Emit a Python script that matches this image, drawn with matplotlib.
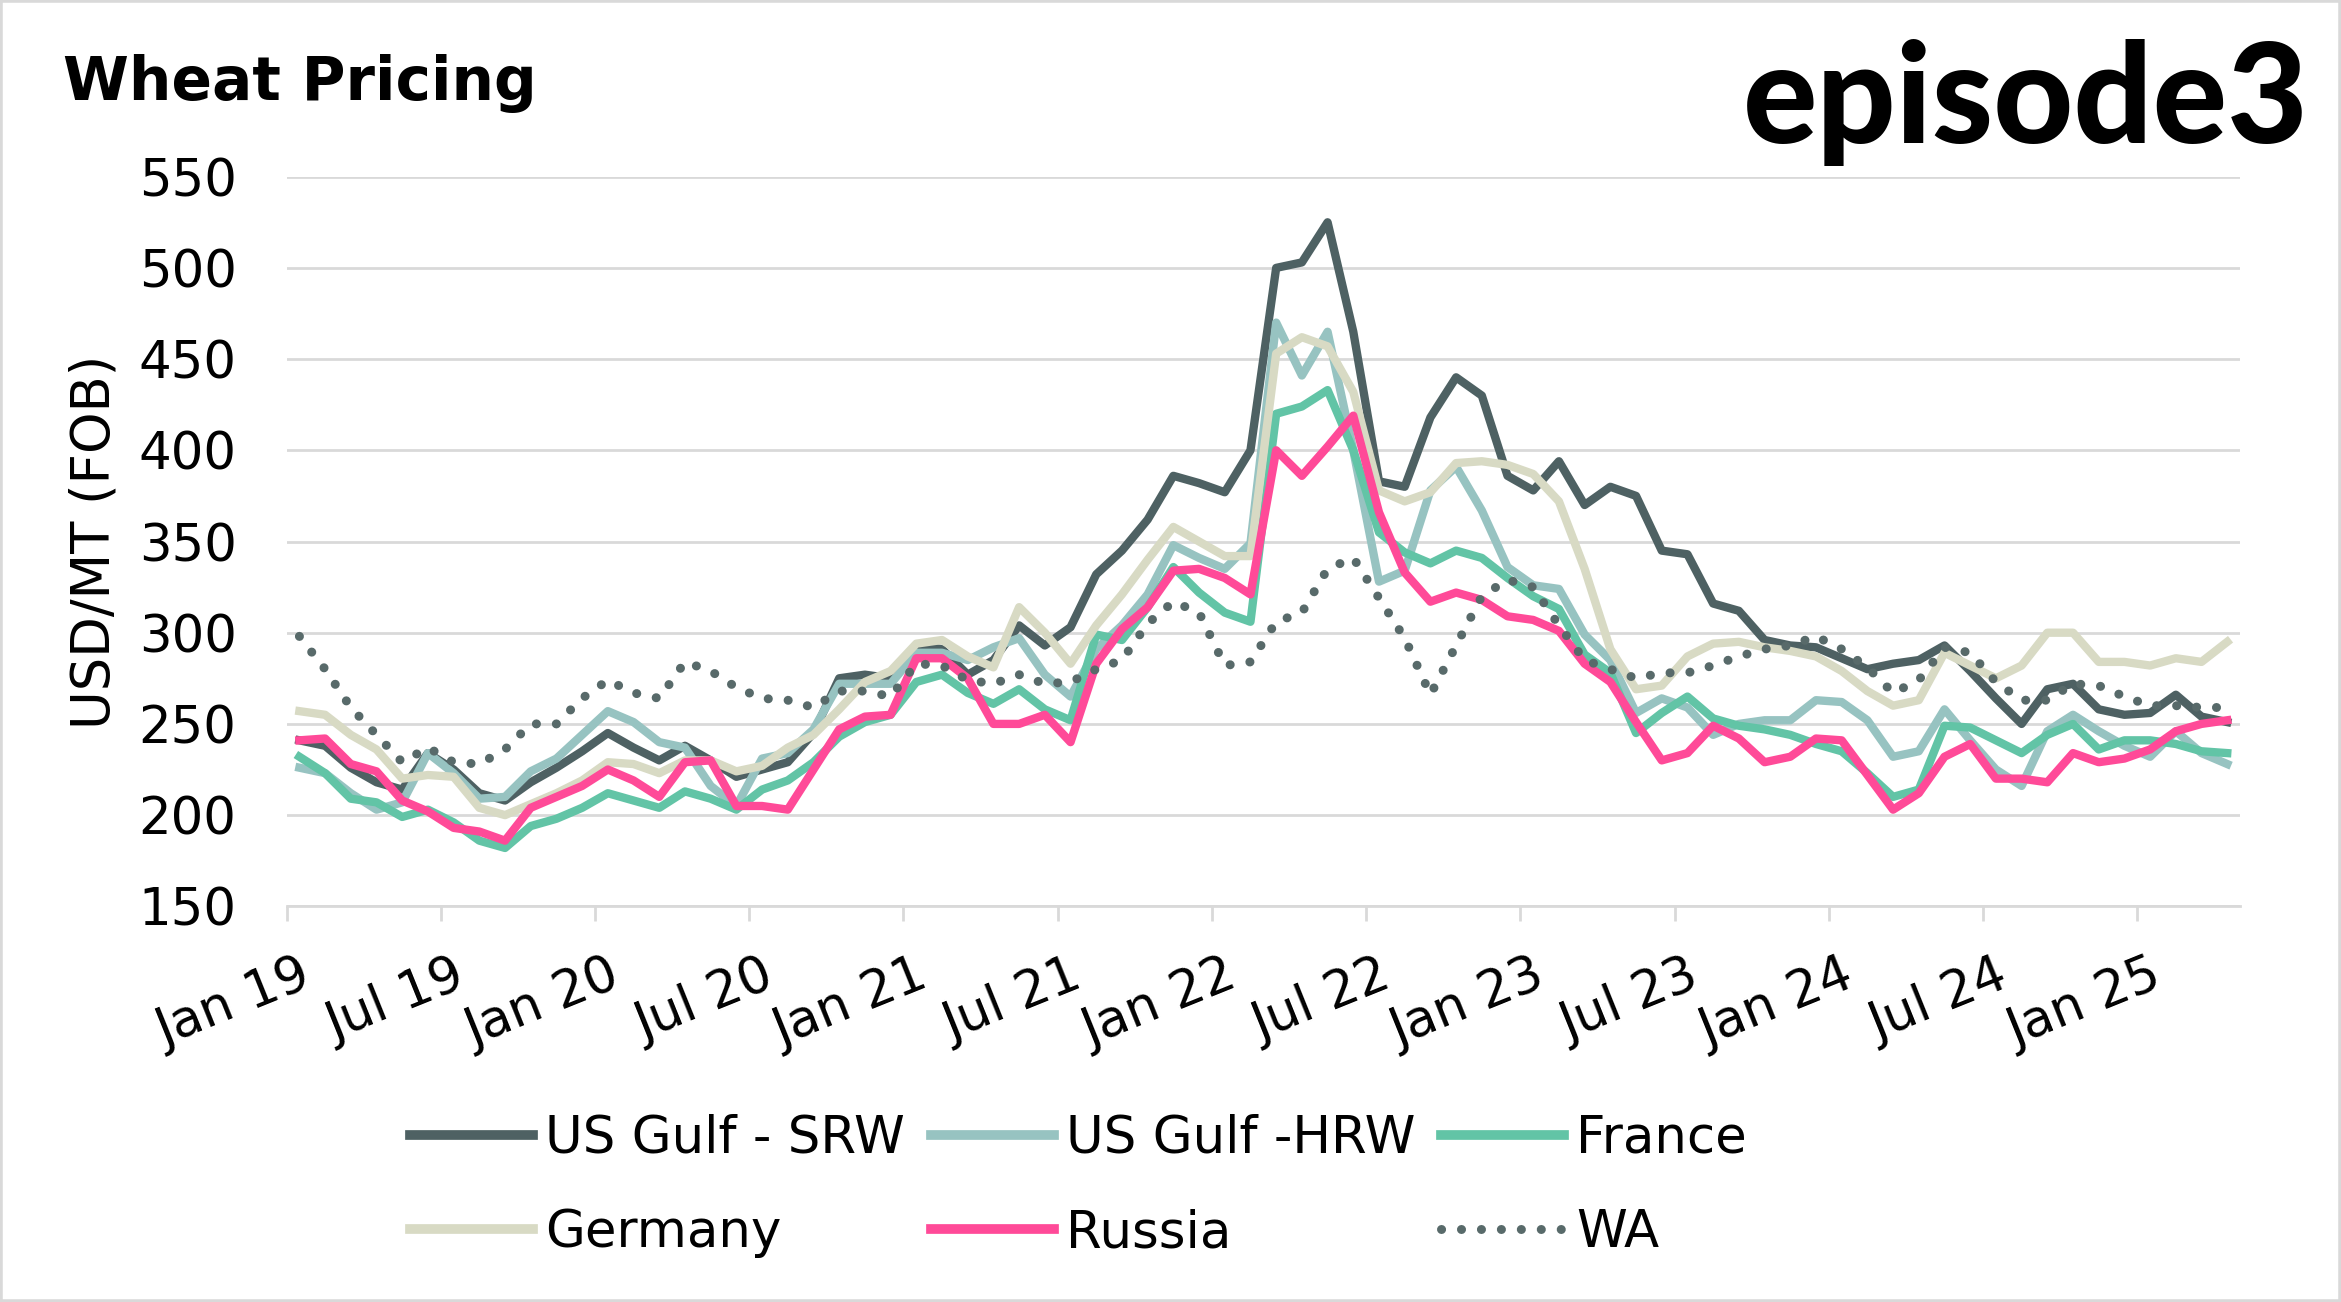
import matplotlib.pyplot as plt
from matplotlib.patches import Rectangle

# monthly FOB prices, Jan 2019 .. Apr 2025 (USD/MT)
tick_labels = ['Jan 19', 'Jul 19', 'Jan 20', 'Jul 20', 'Jan 21', 'Jul 21', 'Jan 22',
               'Jul 22', 'Jan 23', 'Jul 23', 'Jan 24', 'Jul 24', 'Jan 25']

us_gulf_srw = [241, 238, 226, 218, 214, 234, 225, 212, 208, 218, 226, 235, 245,
               237, 230, 238, 230, 221, 225, 229, 245, 275, 277, 275, 293, 291,
               277, 285, 304, 293, 303, 332, 345, 362, 386, 382, 377, 400, 500,
               503, 525, 465, 383, 380, 418, 440, 430, 386, 378, 394, 370,
               380, 375, 345, 343, 316, 312, 296, 293, 292, 286, 280, 283, 285,
               293, 279, 264, 250, 269, 272, 258, 255, 256, 266, 254, 251]

us_gulf_hrw = [226, 223, 212, 203, 207, 234, 223, 209, 210, 224, 231, 244, 257,
               251, 240, 237, 216, 205, 231, 234, 247, 272, 272, 272, 289, 289,
               285, 292, 297, 277, 265, 291, 304, 321, 348, 341, 335, 349, 470,
               441, 465, 400, 328, 334, 378, 391, 367, 336, 326, 324, 299,
               285, 256, 264, 259, 244, 250, 252, 252, 263, 262, 252, 232, 235,
               258, 241, 225, 216, 246, 255, 246, 238, 232, 246, 234, 228]

france = [232, 223, 209, 207, 199, 203, 196, 186, 182, 194, 198, 204, 212,
          208, 204, 213, 209, 203, 214, 219, 229, 243, 251, 255, 273, 277,
          267, 261, 269, 258, 252, 299, 296, 314, 336, 322, 311, 306, 420,
          424, 433, 400, 355, 344, 338, 345, 341, 330, 320, 313, 288,
          278, 245, 256, 265, 253, 249, 247, 244, 239, 235, 223, 210, 214,
          249, 248, 241, 234, 244, 250, 236, 241, 241, 239, 235, 234]

germany = [257, 255, 244, 236, 220, 222, 221, 204, 200, 206, 212, 219, 229,
           228, 223, 230, 230, 224, 227, 237, 244, 258, 273, 279, 294, 296,
           287, 281, 314, 300, 283, 304, 321, 340, 358, 350, 342, 342, 453,
           462, 457, 432, 378, 372, 377, 393, 394, 392, 387, 372, 335,
           291, 269, 271, 287, 294, 295, 292, 290, 287, 279, 268, 260, 263,
           289, 282, 275, 282, 300, 300, 284, 284, 282, 286, 284, 295]

russia = [241, 242, 228, 224, 208, 202, 193, 191, 186, 204, 210, 216, 225,
          219, 210, 229, 230, 205, 205, 203, 225, 247, 254, 255, 286, 286,
          275, 250, 250, 255, 240, 283, 302, 314, 334, 335, 330, 321, 400,
          386, 402, 419, 366, 333, 317, 322, 318, 309, 307, 301, 283,
          273, 251, 230, 234, 249, 242, 229, 232, 242, 241, 222, 203, 212,
          232, 239, 220, 220, 218, 234, 229, 231, 236, 246, 250, 252]

wa = [298, 280, 259, 244, 229, 237, 229, 228, 236, 250, 250, 264, 274,
      267, 264, 284, 279, 270, 264, 263, 259, 268, 268, 265, 283, 282,
      274, 272, 277, 272, 273, 280, 285, 305, 317, 311, 282, 284, 306,
      311, 335, 341, 319, 297, 266, 293, 320, 329, 325, 304, 285,
      280, 275, 278, 278, 282, 287, 291, 293, 298, 291, 281, 267, 274,
      292, 289, 273, 263, 263, 272, 271, 265, 260, 260, 259, 259]

GRID = '#D9D9D9'
FS = 37
LW = 6


def plot_wheat_pricing():
    fig = plt.figure(figsize=(23.41, 13.02), dpi=100)
    ax = fig.add_axes([0.1224, 0.3039, 0.8345, 0.5604])
    x = list(range(len(us_gulf_srw)))

    # plot each series
    l_srw, = ax.plot(x, us_gulf_srw, color='#4E6163', lw=LW, label='US Gulf - SRW')
    l_hrw, = ax.plot(x, us_gulf_hrw, color='#97C3C1', lw=LW, label='US Gulf -HRW')
    l_fr, = ax.plot(x, france, color='#62C4A6', lw=LW, label='France')
    l_de, = ax.plot(x, germany, color='#D8DAC4', lw=LW, label='Germany')
    l_ru, = ax.plot(x, russia, color='#FF4A98', lw=LW, label='Russia')
    l_wa, = ax.plot(x, wa, color='#586A6A', lw=6.5, linestyle=(0, (0.01, 2.2)),
                    dash_capstyle='round', label='WA')

    ax.set_xlim(-0.5, len(x) - 0.5)
    ax.set_ylim(150, 550)
    ax.set_yticks(range(150, 551, 50))

    # tick marks between categories, labels on category centres
    ax.set_xticks([i - 0.5 for i in range(0, len(x), 6)])
    ax.set_xticks(list(range(0, len(x), 6)), minor=True)
    ax.set_xticklabels(tick_labels, minor=True, rotation=22, ha='right', va='top',
                       rotation_mode='anchor')
    ax.tick_params(axis='x', which='major', length=11, width=2, color=GRID,
                   labelbottom=False)
    ax.tick_params(axis='x', which='minor', length=0, pad=32, labelsize=FS)
    ax.tick_params(axis='y', length=0, pad=36, labelsize=FS)

    ax.grid(axis='y', color=GRID, lw=2)
    ax.set_axisbelow(True)
    for side in ['top', 'right', 'left']:
        ax.spines[side].set_visible(False)
    ax.spines['bottom'].set_color(GRID)
    ax.spines['bottom'].set_linewidth(2)

    ax.set_ylabel('USD/MT (FOB)', fontsize=38)
    ax.yaxis.set_label_coords(-0.085, 0.5)

    # legend: matplotlib fills columns first
    handles = [l_srw, l_de, l_hrw, l_ru, l_fr, l_wa]
    leg = fig.legend(handles=handles, labels=[h.get_label() for h in handles],
                     ncol=3, loc='center left', bbox_to_anchor=(410 / 2341, 1 - 1186 / 1302),
                     frameon=False, fontsize=FS, handlelength=2.4, handletextpad=0.23,
                     columnspacing=0.5, labelspacing=0.87, borderpad=0, borderaxespad=0)
    for line in leg.get_lines():
        line.set_linewidth(7 if line.get_label() != 'WA' else 6.5)

    fig.text(63 / 2341, 1 - 100 / 1302, 'Wheat Pricing', fontsize=43,
             fontweight='bold', va='baseline', ha='left')
    fig.text(2309 / 2341, 1 - 143 / 1302, 'episode3', fontsize=100, family='Lato',
             fontweight='black', va='baseline', ha='right')

    fig.patches.append(Rectangle((0, 0), 1, 1, transform=fig.transFigure,
                                 fill=False, edgecolor=GRID, lw=4))

    fig.savefig('out.png', dpi=100)


if __name__ == "__main__":
    plot_wheat_pricing()
